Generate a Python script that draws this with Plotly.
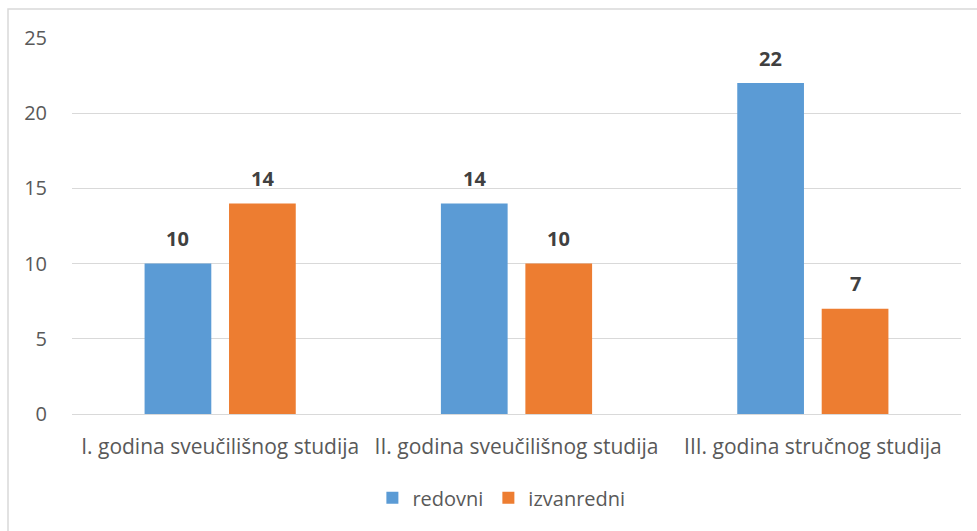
import plotly.graph_objects as go

categories = ["I. godina sveučilišnog studija", "II. godina sveučilišnog studija", "III. godina stručnog studija"]
redovni = [10, 14, 22]
izvanredni = [14, 10, 7]
series_names = ["redovni", "izvanredni"]
colors = ["#5B9BD5", "#ED7D31"]

W, H = 977, 531
L, R, T, B = 72, 16, 38, 117
pw, ph = W - L - R, H - T - B
BARGAP, GROUPGAP = 0.43, 0.21
FONT = "Open Sans"

fig = go.Figure()
for name, vals, c in zip(series_names, [redovni, izvanredni], colors):
    fig.add_trace(go.Bar(
        x=categories, y=vals, name=name, marker=dict(color=c, line=dict(width=0)),
    ))

# value labels above bars, placed at each bar's centre within its group
slot = (1 - BARGAP) / 2
for si, vals in enumerate([redovni, izvanredni]):
    off = (si - 0.5) * slot
    for ci, v in enumerate(vals):
        fig.add_annotation(x=ci + off, y=v, xref="x", yref="y", text=f"<b>{v}</b>",
                           showarrow=False, yanchor="middle", yshift=25,
                           font=dict(family=FONT, size=20, color="#404040"))

fig.update_layout(
    width=W, height=H,
    margin=dict(l=L, r=R, t=T, b=B, autoexpand=False),
    paper_bgcolor="white", plot_bgcolor="white",
    barmode="group", bargap=BARGAP, bargroupgap=GROUPGAP,
    font=dict(family=FONT, size=20, color="#595959"),
    showlegend=True,
    legend=dict(orientation="h", x=0.483, xanchor="center", y=-0.223, yanchor="middle",
                font=dict(family=FONT, size=20, color="#595959"), traceorder="normal"),
)
fig.update_yaxes(range=[0, 25], dtick=5, showgrid=True, gridcolor="#D9D9D9", gridwidth=1,
                 zeroline=True, zerolinecolor="#D9D9D9", zerolinewidth=1,
                 showline=False, ticks="", ticklabelstandoff=24,
                 tickfont=dict(family=FONT, size=20, color="#595959"))
fig.update_xaxes(showline=False, ticks="", ticklabelstandoff=18,
                 tickfont=dict(family=FONT, size=21, color="#595959"))

# chart border (Excel chart area outline)
x0 = (8 - L) / pw
y1 = 1 + (T - 9) / ph
fig.add_shape(type="rect", xref="paper", yref="paper", x0=x0, x1=1.5, y0=-1, y1=y1,
              line=dict(color="#D9D9D9", width=1.5), fillcolor="rgba(0,0,0,0)", layer="below")

fig.write_html("out.html", config={"displayModeBar": False},
               post_script="document.body.style.margin='0';document.body.style.overflow='hidden';")
